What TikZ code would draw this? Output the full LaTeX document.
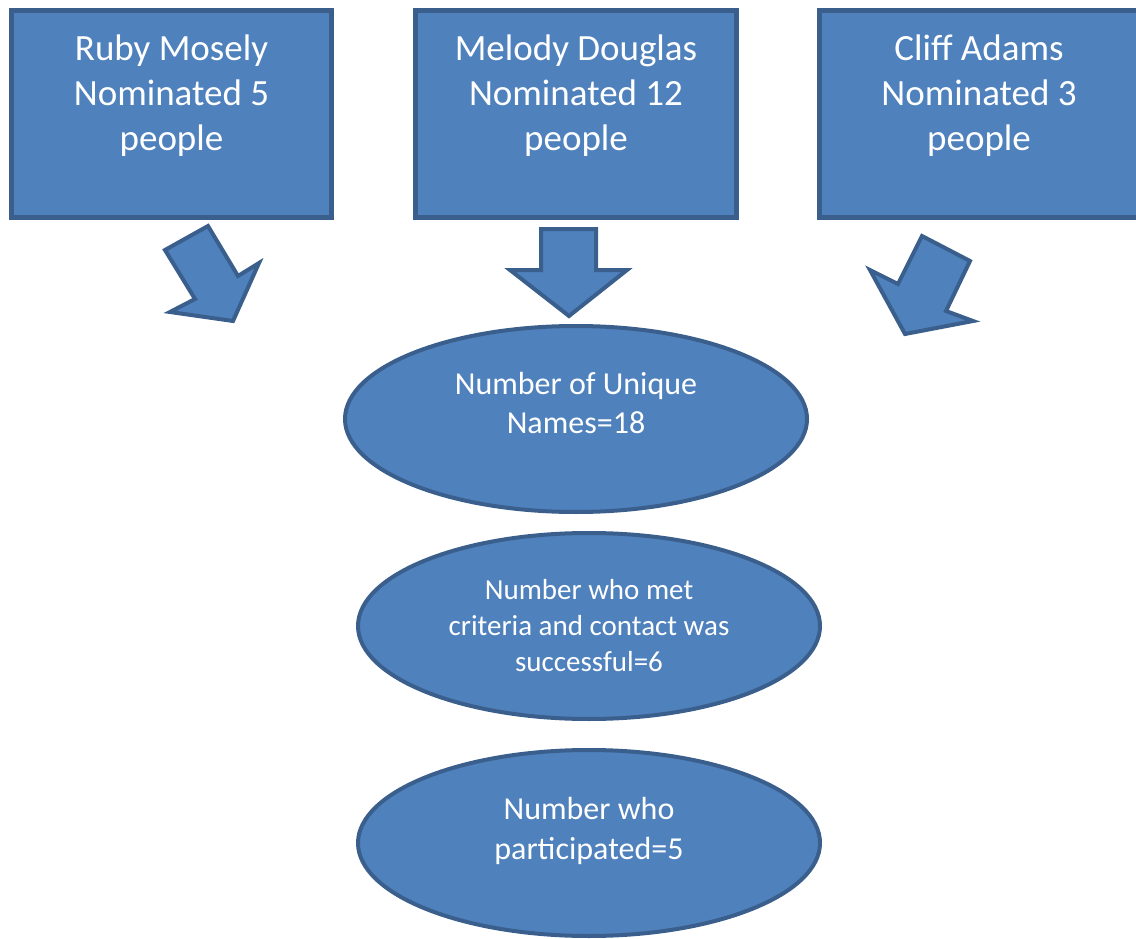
\documentclass[tikz,border=0pt]{standalone}
\usepackage{fontspec}
\setmainfont{Carlito}
\usetikzlibrary{shapes.geometric}
\definecolor{fillblue}{HTML}{4F81BD}
\definecolor{edgeblue}{HTML}{3A5F8C}
\begin{document}
\begin{tikzpicture}[x=1pt,y=-1pt,
  shapebase/.style={fill=fillblue,draw=edgeblue,line join=miter},
  boxshape/.style={shapebase,line width=4.5pt,rectangle,inner sep=0pt},
  ovalshape/.style={shapebase,line width=4pt,ellipse,inner sep=0pt,
    minimum width=462pt,minimum height=186pt},
  bigarrow/.style={shapebase,line width=4pt},
  boxtext/.style={text=white,align=center,font=\fontsize{37}{45}\selectfont},
  ovaltext/.style={text=white,align=center,font=\fontsize{32}{39.5}\selectfont},
  smalltext/.style={text=white,align=center,font=\fontsize{29}{36}\selectfont}]
\useasboundingbox (0,0) rectangle (1136,939);

% nominator boxes
\draw[boxshape] (11.5,10.5) rectangle (331.5,217.5);
\draw[boxshape] (415.5,10.5) rectangle (736.5,217.5);
\draw[boxshape] (819.5,10.5) rectangle (1140,217.5);
\node[boxtext] (t1) at (171.5,96) {Ruby Mosely\\Nominated 5\\people};
\node[boxtext] (t2) at (576,96) {Melody Douglas\\Nominated 12\\people};
\node[boxtext] (t3) at (979,96) {Cliff Adams\\Nominated 3\\people};

% block arrows
\draw[bigarrow] (165,250) -- (208,226) -- (238,276) -- (259,263) -- (233,321)
  -- (170,312) -- (195,299) -- cycle;
\draw[bigarrow] (541,229) -- (596,229) -- (596,270) -- (627,270) -- (569,316)
  -- (510,270) -- (541,270) -- cycle;
\draw[bigarrow] (922,236) -- (970,261) -- (946,311) -- (973,321) -- (905,334)
  -- (870,270) -- (898,284) -- cycle;

% result ovals
\node[ovalshape] (e1) at (576,419) {};
\node[ovalshape] (e2) at (589,626) {};
\node[ovalshape] (e3) at (589,843) {};
\node[ovaltext] (l1) at (576,403) {Number of Unique\\Names=18};
\node[smalltext] (l2) at (589,625.5) {Number who met\\criteria and contact was\\successful=6};
\node[ovaltext] (l3) at (589,831) {Number who\\participated=5};
\end{tikzpicture}
\end{document}
